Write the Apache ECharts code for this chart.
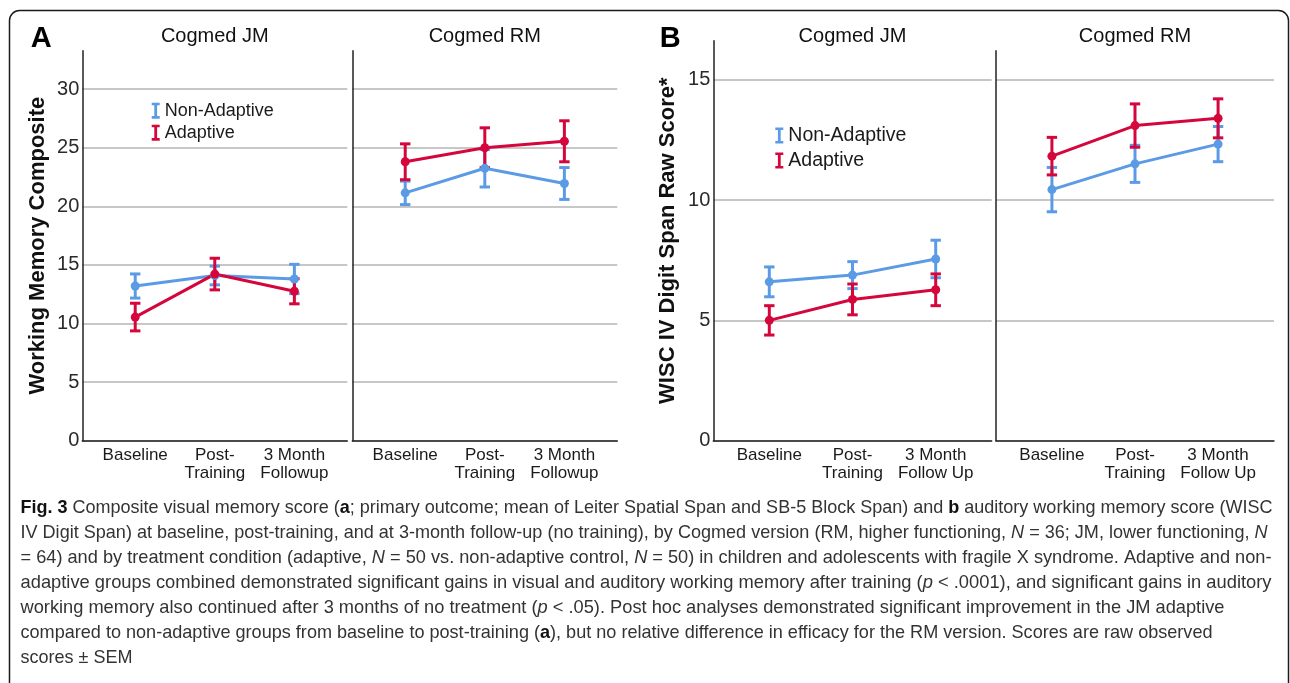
<!DOCTYPE html>
<html>
<head>
<meta charset="utf-8">
<script src="https://cdn.jsdelivr.net/npm/echarts@6/dist/echarts.min.js"></script>
<style>
  html, body { margin: 0; padding: 0; background: #fff; }
  #chart { width: 1290px; height: 683px; }
</style>
</head>
<body>
<div id="chart"></div>
<script>
// ---------------- DATA ----------------
const catsA = ['Baseline', 'Post-\nTraining', '3 Month\nFollowup'];
const catsB = ['Baseline', 'Post-\nTraining', '3 Month\nFollow Up'];
const seriesNames = ['Non-Adaptive', 'Adaptive'];
const yTicksA = [0, 5, 10, 15, 20, 25, 30];
const yTicksB = [0, 5, 10, 15];

// Panel A – Working Memory Composite (mean, SEM)
const jmA_nonAdaptive_mean = [13.2, 14.1, 13.8];
const jmA_nonAdaptive_sem  = [1.03, 0.80, 1.25];
const jmA_adaptive_mean    = [10.55, 14.22, 12.75];
const jmA_adaptive_sem     = [1.18, 1.35, 1.07];
const rmA_nonAdaptive_mean = [21.15, 23.25, 21.95];
const rmA_nonAdaptive_sem  = [1.00, 1.60, 1.36];
const rmA_adaptive_mean    = [23.8, 25.0, 25.55];
const rmA_adaptive_sem     = [1.53, 1.70, 1.75];

// Panel B – WISC IV Digit Span Raw Score (mean, SEM)
const jmB_nonAdaptive_mean = [6.60, 6.88, 7.55];
const jmB_nonAdaptive_sem  = [0.62, 0.56, 0.78];
const jmB_adaptive_mean    = [5.00, 5.87, 6.27];
const jmB_adaptive_sem     = [0.61, 0.64, 0.66];
const rmB_nonAdaptive_mean = [10.43, 11.50, 12.32];
const rmB_nonAdaptive_sem  = [0.92, 0.77, 0.73];
const rmB_adaptive_mean    = [11.82, 13.09, 13.39];
const rmB_adaptive_sem     = [0.78, 0.90, 0.81];

const captionLines = [
  '{b|Fig. 3} Composite visual memory score ({b|a}; primary outcome; mean of Leiter Spatial Span and SB-5 Block Span) and {b|b} auditory working memory score (WISC',
  'IV Digit Span) at baseline, post-training, and at 3-month follow-up (no training), by Cogmed version (RM, higher functioning, {i|N} = 36; JM, lower functioning, {i|N}',
  '= 64) and by treatment condition (adaptive, {i|N} = 50 vs. non-adaptive control, {i|N} = 50) in children and adolescents with fragile X syndrome. Adaptive and non-',
  'adaptive groups combined demonstrated significant gains in visual and auditory working memory after training ({i|p} < .0001), and significant gains in auditory',
  'working memory also continued after 3 months of no treatment ({i|p} < .05). Post hoc analyses demonstrated significant improvement in the JM adaptive',
  'compared to non-adaptive groups from baseline to post-training ({b|a}), but no relative difference in efficacy for the RM version. Scores are raw observed',
  'scores \u00b1 SEM'
];

// ---------------- STYLE ----------------
const BLUE = '#5b9be6';
const RED = '#d4063c';
const FONT = '"Liberation Sans", Arial, sans-serif';
const AXIS_COLOR = '#222';
const GRID_COLOR = '#b5b5b5';
const IBEAM = 'path://M0,0H8V2.6H5.4V13.4H8V16H0V13.4H2.6V2.6H0Z';

const chart = echarts.init(document.getElementById('chart'), null, { renderer: 'canvas' });

const grids = [
  { left: 82.3, top: 50.7, width: 265, height: 390 },
  { left: 352.3, top: 50.7, width: 265, height: 390 },
  { left: 713.3, top: 40.7, width: 278.4, height: 400 },
  { left: 996, top: 50.7, width: 278, height: 390 }
];

function xAxisFor(gi, cats, pad) {
  return {
    type: 'value', gridIndex: gi, min: -pad, max: 2 + pad,
    axisLine: { show: true, lineStyle: { color: AXIS_COLOR, width: 1.5 } },
    axisTick: { show: false, customValues: [0, 1, 2] },
    splitLine: { show: false },
    axisLabel: {
      customValues: [0, 1, 2],
      formatter: v => cats[Math.round(v)] || '',
      color: '#1a1a1a', fontSize: 17, fontFamily: FONT, lineHeight: 18, margin: 6
    }
  };
}
function yAxisFor(gi, max, ticks, showLabels, name, gap) {
  return {
    type: 'value', gridIndex: gi, min: 0, max: max,
    axisLine: { show: true, onZero: false, lineStyle: { color: AXIS_COLOR, width: 1.5 } },
    axisTick: { show: false, customValues: ticks },
    splitLine: { show: true, lineStyle: { color: GRID_COLOR, width: 1.5 } },
    axisLabel: {
      show: showLabels, customValues: ticks,
      color: '#2a2a2a', fontSize: 20, fontFamily: FONT, margin: 3
    },
    name: name || '',
    nameLocation: 'middle',
    nameGap: gap || 33,
    nameTextStyle: { fontSize: 22, fontWeight: 'bold', color: '#111', fontFamily: FONT }
  };
}

function errData(mean, sem) {
  return mean.map((m, i) => [i, m - sem[i], m + sem[i]]);
}
function lineData(mean) {
  return mean.map((m, i) => [i, m]);
}
function renderErr(params, api) {
  const x = api.value(0);
  const lo = api.coord([x, api.value(1)]);
  const hi = api.coord([x, api.value(2)]);
  const hw = 5.2;
  const st = { stroke: api.visual('color'), lineWidth: 3, fill: null };
  return {
    type: 'group',
    children: [
      { type: 'line', shape: { x1: lo[0], y1: lo[1], x2: hi[0], y2: hi[1] }, style: st },
      { type: 'line', shape: { x1: lo[0] - hw, y1: lo[1], x2: lo[0] + hw, y2: lo[1] }, style: st },
      { type: 'line', shape: { x1: hi[0] - hw, y1: hi[1], x2: hi[0] + hw, y2: hi[1] }, style: st }
    ]
  };
}
function panelSeries(gi, naMean, naSem, adMean, adSem) {
  const mk = (name, color, mean, sem) => [
    {
      type: 'custom', name: name, xAxisIndex: gi, yAxisIndex: gi,
      itemStyle: { color: color }, renderItem: renderErr,
      encode: { x: 0, y: [1, 2] }, data: errData(mean, sem), clip: false
    },
    {
      type: 'line', name: name, xAxisIndex: gi, yAxisIndex: gi,
      data: lineData(mean), symbol: 'circle', symbolSize: 9,
      itemStyle: { color: color }, lineStyle: { color: color, width: 3 }
    }
  ];
  return [].concat(mk(seriesNames[0], BLUE, naMean, naSem), mk(seriesNames[1], RED, adMean, adSem));
}

// caption measurement for justification
const measureCtx = document.createElement('canvas').getContext('2d');
const CAP_SIZE = 18.5;
function measureLine(line) {
  let w = 0;
  const re = /\{(\w)\|([^}]*)\}/g;
  let last = 0, m;
  const seg = (txt, style) => {
    const weight = style === 'b' ? 'bold ' : '';
    const it = style === 'i' ? 'italic ' : '';
    measureCtx.font = it + weight + CAP_SIZE + 'px "Liberation Sans"';
    w += measureCtx.measureText(txt).width;
  };
  while ((m = re.exec(line))) {
    if (m.index > last) seg(line.slice(last, m.index), '');
    seg(m[2], m[1]);
    last = re.lastIndex;
  }
  if (last < line.length) seg(line.slice(last), '');
  return w;
}
const capTargets = [1252, 1247, 1251, 1251, 1204, 1192, null];
const capY = [508.3, 533.3, 558.3, 583.3, 608.3, 633.3, 658.3];
const natScale = capTargets[0] / measureLine(captionLines[0]);

const graphics = [
  { type: 'rect', shape: { x: 9.5, y: 10.5, width: 1279, height: 720, r: 10 },
    style: { stroke: '#1a1a1a', lineWidth: 1.5, fill: null }, silent: true },
  { type: 'text', x: 41.2, y: 39, style: { text: 'A', fontSize: 29, fontWeight: 'bold', fontFamily: FONT, fill: '#000', align: 'center', verticalAlign: 'middle' } },
  { type: 'text', x: 670.3, y: 39, style: { text: 'B', fontSize: 29, fontWeight: 'bold', fontFamily: FONT, fill: '#000', align: 'center', verticalAlign: 'middle' } },
  { type: 'text', x: 214.8, y: 36, style: { text: 'Cogmed JM', fontSize: 20, fontFamily: FONT, fill: '#111', align: 'center', verticalAlign: 'middle' } },
  { type: 'text', x: 484.8, y: 36, style: { text: 'Cogmed RM', fontSize: 20, fontFamily: FONT, fill: '#111', align: 'center', verticalAlign: 'middle' } },
  { type: 'text', x: 852.5, y: 36, style: { text: 'Cogmed JM', fontSize: 20, fontFamily: FONT, fill: '#111', align: 'center', verticalAlign: 'middle' } },
  { type: 'text', x: 1135, y: 36, style: { text: 'Cogmed RM', fontSize: 20, fontFamily: FONT, fill: '#111', align: 'center', verticalAlign: 'middle' } }
];
const CAP_COLOR = '#333';
const rich = {
  b: { fontWeight: 'bold', fontSize: CAP_SIZE, fontFamily: FONT, fill: '#111', color: '#111' },
  i: { fontStyle: 'italic', fontSize: CAP_SIZE, fontFamily: FONT, fill: CAP_COLOR, color: CAP_COLOR }
};
captionLines.forEach((line, k) => {
  const nat = measureLine(line);
  const sx = capTargets[k] ? capTargets[k] / nat : natScale;
  graphics.push({
    type: 'text', x: 20.5, y: capY[k], scaleX: sx, scaleY: 1,
    style: {
      text: line, rich: rich, fontSize: CAP_SIZE, fontFamily: FONT, fill: CAP_COLOR,
      verticalAlign: 'middle', align: 'left'
    }
  });
});

const legendBase = {
  orient: 'vertical', icon: IBEAM, itemWidth: 8, itemHeight: 16, padding: 0,
  itemTextGap: 7, selectedMode: true
};

const option = {
  animation: false,
  backgroundColor: '#fff',
  grid: grids,
  xAxis: [
    xAxisFor(0, catsA, 0.665),
    xAxisFor(1, catsA, 0.665),
    xAxisFor(2, catsB, 0.673),
    xAxisFor(3, catsB, 0.673)
  ],
  yAxis: [
    yAxisFor(0, 33.28, yTicksA, true, 'Working Memory Composite', 33),
    yAxisFor(1, 33.28, yTicksA, false, ''),
    yAxisFor(2, 16.62, yTicksB, true, 'WISC IV Digit Span Raw Score*', 34),
    yAxisFor(3, 16.2, yTicksB, false, '')
  ],
  legend: [
    Object.assign({}, legendBase, {
      left: 151.7, top: 101.7, itemGap: 4,
      textStyle: { fontSize: 18, fontFamily: FONT, color: '#1a1a1a' },
      data: [
        { name: seriesNames[0], itemStyle: { color: BLUE } },
        { name: seriesNames[1], itemStyle: { color: RED } }
      ]
    }),
    Object.assign({}, legendBase, {
      left: 775.3, top: 125.5, itemGap: 5,
      textStyle: { fontSize: 19.5, fontFamily: FONT, color: '#1a1a1a' },
      data: [
        { name: seriesNames[0], itemStyle: { color: BLUE } },
        { name: seriesNames[1], itemStyle: { color: RED } }
      ]
    })
  ],
  series: [].concat(
    panelSeries(0, jmA_nonAdaptive_mean, jmA_nonAdaptive_sem, jmA_adaptive_mean, jmA_adaptive_sem),
    panelSeries(1, rmA_nonAdaptive_mean, rmA_nonAdaptive_sem, rmA_adaptive_mean, rmA_adaptive_sem),
    panelSeries(2, jmB_nonAdaptive_mean, jmB_nonAdaptive_sem, jmB_adaptive_mean, jmB_adaptive_sem),
    panelSeries(3, rmB_nonAdaptive_mean, rmB_nonAdaptive_sem, rmB_adaptive_mean, rmB_adaptive_sem)
  ),
  graphic: graphics
};
chart.setOption(option);
</script>
</body>
</html>
